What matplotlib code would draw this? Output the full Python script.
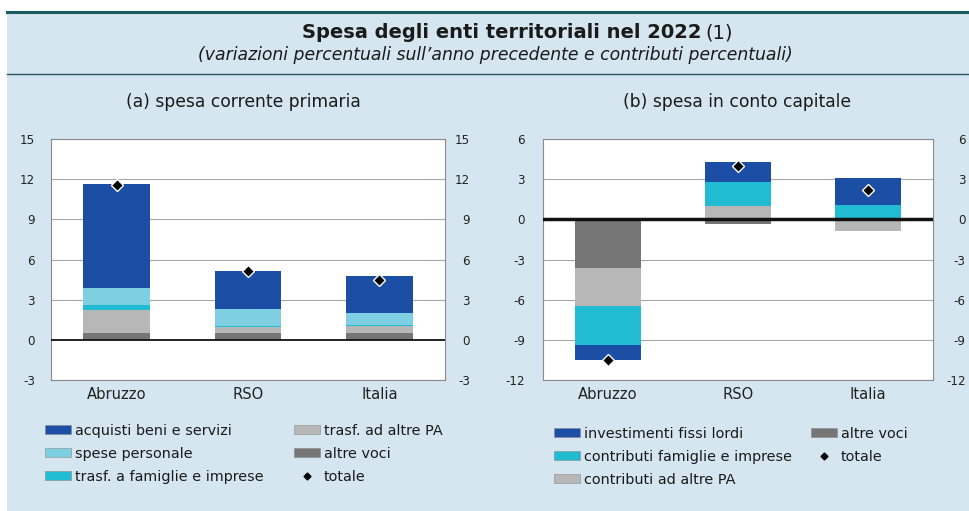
import matplotlib
matplotlib.use("Agg")
import matplotlib.pyplot as plt
from matplotlib.patches import Rectangle, Patch
from matplotlib.lines import Line2D
import numpy as np

plt.rcParams['font.family'] = ['DejaVu Sans']

categories = ["Abruzzo", "RSO", "Italia"]

# (a) spesa corrente primaria
a_altre = [0.5, 0.5, 0.5]
a_trasf_pa = [1.7, 0.45, 0.5]
a_trasf_fam = [0.4, 0.1, 0.1]
a_personale = [1.25, 1.25, 0.9]
a_acquisti = [7.8, 2.85, 2.75]
a_totale = [11.6, 5.15, 4.5]

# (b) spesa in conto capitale
b_altre = [-3.6, -0.35, 0.0]
b_contr_pa = [-2.9, 1.0, -0.85]
b_contr_fam = [-2.9, 1.8, 1.1]
b_invest = [-1.1, 1.5, 1.95]
b_totale = [-10.5, 4.0, 2.2]

a_ticks = [-3, 0, 3, 6, 9, 12, 15]
b_ticks = [-12, -9, -6, -3, 0, 3, 6]

C_DARKBLUE = "#1d4ea6"
C_LIGHTCYAN = "#7fcfe2"
C_TEAL = "#22bcd2"
C_LIGHTGRAY = "#b7b7b7"
C_DARKGRAY = "#767676"
BG = "#d5e6f1"
TXT = "#1a1a1a"

W, H = 969, 511
fig = plt.figure(figsize=(W / 100, H / 100), dpi=100)
fig.patch.set_facecolor("white")


def fx(px):
    return px / W


def fy(py):
    return 1 - py / H


# background panel
fig.add_artist(Rectangle((fx(7), 0), 1 - fx(7), fy(12), transform=fig.transFigure,
                         facecolor=BG, edgecolor="none", zorder=-10))
fig.add_artist(Line2D([fx(7), 1], [fy(12), fy(12)], transform=fig.transFigure,
                      color="#1c5a62", linewidth=2.2))
fig.add_artist(Line2D([fx(7), 1], [fy(74), fy(74)], transform=fig.transFigure,
                      color="#2a5560", linewidth=1.0))

# titles
fig.text(fx(701), fy(33), "Spesa degli enti territoriali nel 2022", ha="right", va="center",
         fontsize=14, fontweight="bold", color=TXT)
fig.text(fx(705), fy(33), "(1)", ha="left", va="center", fontsize=14, color=TXT)
fig.text(fx(495), fy(55), "(variazioni percentuali sull\u2019anno precedente e contributi percentuali)",
         ha="center", va="center", fontsize=12.4, style="italic", color=TXT)
fig.text(fx(243), fy(102), "(a) spesa corrente primaria", ha="center", va="center",
         fontsize=12.3, color=TXT)
fig.text(fx(737), fy(102), "(b) spesa in conto capitale", ha="center", va="center",
         fontsize=12.3, color=TXT)

x = np.arange(len(categories))
bw = 0.51


def stack(ax, series, colors):
    pos = np.zeros(len(categories))
    neg = np.zeros(len(categories))
    for vals, col in zip(series, colors):
        vals = np.asarray(vals, dtype=float)
        bottoms = np.where(vals >= 0, pos, neg)
        ax.bar(x, vals, width=bw, bottom=bottoms, color=col, edgecolor="none", zorder=3)
        pos = np.where(vals >= 0, pos + vals, pos)
        neg = np.where(vals < 0, neg + vals, neg)


def style(ax, ylim, ticks, zero_lw, lpad, rpad):
    ax.set_facecolor("white")
    ax.set_xlim(-0.5, 2.5)
    ax.set_ylim(*ylim)
    ax.set_yticks(ticks)
    ax.set_yticklabels([str(t) for t in ticks])
    ax.set_xticks(x)
    ax.set_xticklabels(categories)
    for t in ticks:
        if t != 0:
            ax.axhline(t, color="#a8a8a8", linewidth=0.8, zorder=1)
    ax.axhline(0, color="#111111", linewidth=zero_lw, zorder=4)
    for s in ax.spines.values():
        s.set_color("#8a8a8a")
        s.set_linewidth(0.8)
    ax.tick_params(axis="y", left=False, right=False, length=0, labelsize=8.6,
                   colors="#222222", pad=lpad)
    ax.tick_params(axis="x", bottom=False, length=0, labelsize=10.6, colors="#222222", pad=5)
    axr = ax.twinx()
    axr.set_ylim(*ylim)
    axr.set_yticks(ticks)
    axr.set_yticklabels([str(t) for t in ticks])
    for s in axr.spines.values():
        s.set_visible(False)
    axr.tick_params(axis="y", right=False, length=0, labelsize=8.6, colors="#222222", pad=rpad)
    for lab in axr.get_yticklabels():
        lab.set_horizontalalignment("right")
    return axr


ax1 = fig.add_axes([fx(51), fy(380), fx(445 - 51), fy(139) - fy(380)])
stack(ax1, [a_altre, a_trasf_pa, a_trasf_fam, a_personale, a_acquisti],
      [C_DARKGRAY, C_LIGHTGRAY, C_TEAL, C_LIGHTCYAN, C_DARKBLUE])
ax1.plot(x, a_totale, linestyle="none", marker="D", markersize=6.5, color="black",
         markeredgecolor="white", markeredgewidth=1.0, zorder=6)
style(ax1, (-3, 15), a_ticks, 1.3, lpad=11.5, rpad=18)

ax2 = fig.add_axes([fx(543), fy(380), fx(933 - 543), fy(139) - fy(380)])
stack(ax2, [b_altre, b_contr_pa, b_contr_fam, b_invest],
      [C_DARKGRAY, C_LIGHTGRAY, C_TEAL, C_DARKBLUE])
ax2.plot(x, b_totale, linestyle="none", marker="D", markersize=6.5, color="black",
         markeredgecolor="white", markeredgewidth=1.0, zorder=6)
style(ax2, (-12, 6), b_ticks, 2.5, lpad=13, rpad=23.5)

# legends
leg_kw = dict(frameon=False, fontsize=10.4, handlelength=1.8, handleheight=0.6,
              labelspacing=0.62, handletextpad=0.25, borderaxespad=0, borderpad=0,
              labelcolor=TXT)
tot_handle = Line2D([], [], linestyle="none", marker="D", markersize=3.5, color="black")


def patch(c):
    return Patch(facecolor=c, edgecolor="#888888", linewidth=0.4)


fig.legend([patch(C_DARKBLUE), patch(C_LIGHTCYAN), patch(C_TEAL)],
           ["acquisti beni e servizi", "spese personale", "trasf. a famiglie e imprese"],
           loc="upper left", bbox_to_anchor=(fx(45), fy(424)), **leg_kw)
fig.legend([patch(C_LIGHTGRAY), patch(C_DARKGRAY), tot_handle],
           ["trasf. ad altre PA", "altre voci", "totale"],
           loc="upper left", bbox_to_anchor=(fx(294), fy(424)), **leg_kw)
fig.legend([patch(C_DARKBLUE), patch(C_TEAL), patch(C_LIGHTGRAY)],
           ["investimenti fissi lordi", "contributi famiglie e imprese", "contributi ad altre PA"],
           loc="upper left", bbox_to_anchor=(fx(554), fy(427)), **leg_kw)
fig.legend([patch(C_DARKGRAY), tot_handle],
           ["altre voci", "totale"],
           loc="upper left", bbox_to_anchor=(fx(811), fy(427)), **leg_kw)

fig.savefig("out.png", dpi=100, facecolor=fig.get_facecolor())
